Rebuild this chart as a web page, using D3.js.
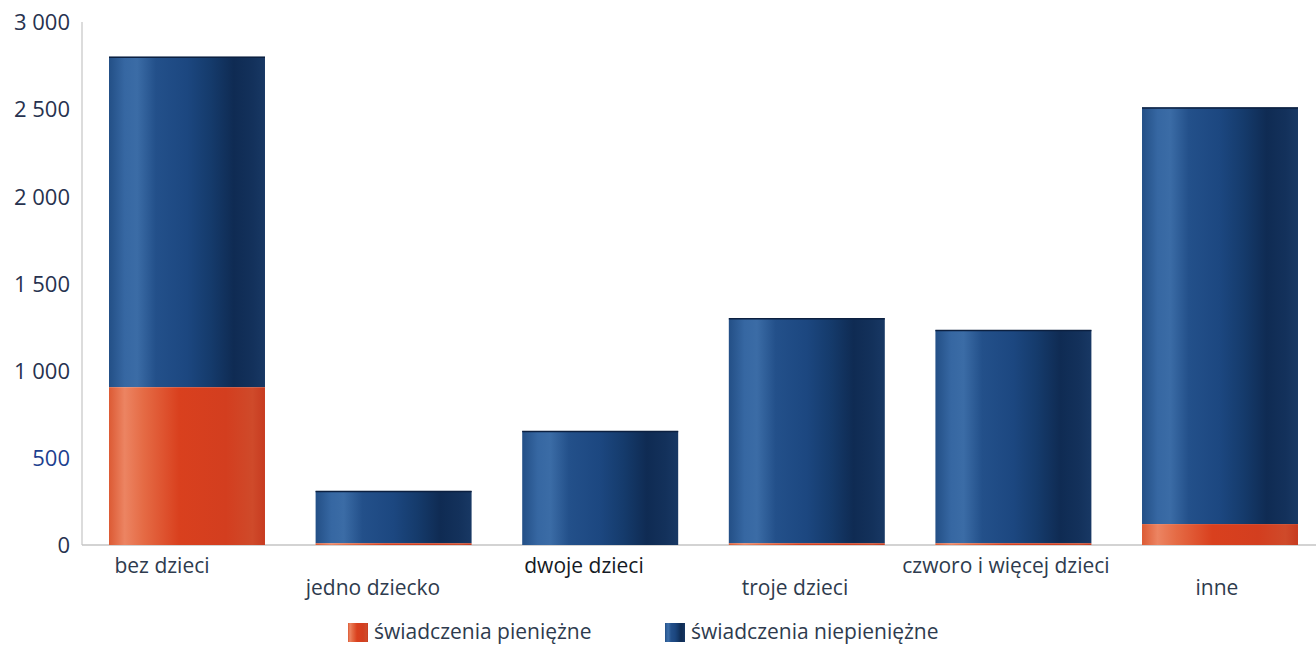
<!DOCTYPE html>
<html><head><meta charset="utf-8">
<script src="https://cdn.jsdelivr.net/npm/d3@7"></script>
<style>body{margin:0;background:#fff;}svg{display:block;}</style>
</head><body>
<script>
const categories = ["bez dzieci","jedno dziecko","dwoje dzieci","troje dzieci","czworo i więcej dzieci","inne"];
const pieniezne = [905, 10, 0, 10, 10, 120];
const niepieniezne = [1895, 300, 654, 1290, 1223, 2390];
const yTicks = [0, 500, 1000, 1500, 2000, 2500, 3000];
const seriesNames = ["świadczenia pieniężne","świadczenia niepieniężne"];

const W = 1316, H = 645;
const svg = d3.select("body").append("svg").attr("width", W).attr("height", H);
const font = "'Open Sans', sans-serif";
const defs = svg.append("defs");
function grad(id, stops){
  const g = defs.append("linearGradient").attr("id", id).attr("x1","0%").attr("x2","100%").attr("y1","0%").attr("y2","0%");
  stops.forEach(s => g.append("stop").attr("offset", s[0]).attr("stop-color", s[1]));
}
grad("gBlue", [["0%","#234f86"],["10%","#3667a2"],["18%","#3b6ca6"],["30%","#23508a"],["50%","#1c4780"],["65%","#153b6c"],["80%","#0f2b53"],["92%","#13315b"],["100%","#183864"]]);
grad("gRed", [["0%","#dc5a34"],["10%","#ec8462"],["22%","#e56b45"],["45%","#d9401e"],["75%","#d33e1f"],["92%","#cf4a2a"],["100%","#c73b20"]]);

const y = d3.scaleLinear().domain([0, 3000]).range([545, 22]);
const x = d3.scaleBand().domain(categories).range([109, 1298]).paddingInner(0.245).paddingOuter(0);
const xl = d3.scalePoint().domain(categories).range([162, 1217]);

// axes lines
svg.append("line").attr("x1", 82).attr("x2", 82).attr("y1", 22).attr("y2", y(0)).attr("stroke", "#d0d0d0").attr("stroke-width", 1.5);
svg.append("line").attr("x1", 82).attr("x2", W).attr("y1", y(0)).attr("y2", y(0)).attr("stroke", "#c4c4c4").attr("stroke-width", 1.5);

// y tick labels
const yAxis = d3.axisLeft(y).tickValues(yTicks).tickSize(0).tickPadding(0)
  .tickFormat(d => d3.format(",")(d).replace(/,/g, " "));
const ga = svg.append("g").attr("transform", "translate(70,0)").call(yAxis);
ga.select(".domain").remove();
ga.selectAll("text").attr("font-family", font).attr("font-size", 22)
  .attr("fill", d => d === 500 ? "#1d3f8f" : "#27324f").attr("dy", "0.35em");

// bars
const data = categories.map((c, i) => ({c, a: pieniezne[i], b: niepieniezne[i]}));
const g = svg.append("g");
g.selectAll(".blue").data(data).join("rect").attr("class","blue")
  .attr("x", d => x(d.c)).attr("width", x.bandwidth())
  .attr("y", d => y(d.a + d.b)).attr("height", d => y(d.a) - y(d.a + d.b))
  .attr("fill", "url(#gBlue)");
g.selectAll(".red").data(data.filter(d => d.a > 0)).join("rect").attr("class","red")
  .attr("x", d => x(d.c)).attr("width", x.bandwidth())
  .attr("y", d => y(d.a)).attr("height", d => y(0) - y(d.a))
  .attr("fill", "url(#gRed)");
g.selectAll(".top").data(data).join("line").attr("class","top")
  .attr("x1", d => x(d.c)).attr("x2", d => x(d.c) + x.bandwidth())
  .attr("y1", d => y(d.a + d.b) + 0.5).attr("y2", d => y(d.a + d.b) + 0.5)
  .attr("stroke", "#0c2040").attr("stroke-width", 1.5);

// category labels
svg.selectAll(".cat").data(categories).join("text").attr("class","cat")
  .attr("x", d => xl(d)).attr("y", (d, i) => i % 2 === 0 ? 573 : 595)
  .attr("text-anchor", "middle").attr("font-family", font).attr("font-size", 21)
  .attr("fill", (d, i) => i === 2 ? "#151a24" : "#2e3b4e")
  .text(d => d);

// legend
const legX = [348, 665];
const leg = svg.selectAll(".leg").data(seriesNames).join("g").attr("class","leg")
  .attr("transform", (d, i) => `translate(${legX[i]},623)`);
leg.append("rect").attr("width", 20).attr("height", 19).attr("fill", (d, i) => i === 0 ? "url(#gRed)" : "url(#gBlue)");
leg.append("text").attr("x", 26).attr("y", 15.5).attr("font-family", font).attr("font-size", 21)
  .attr("fill", "#2e3b4e").text(d => d);
</script>
</body></html>
